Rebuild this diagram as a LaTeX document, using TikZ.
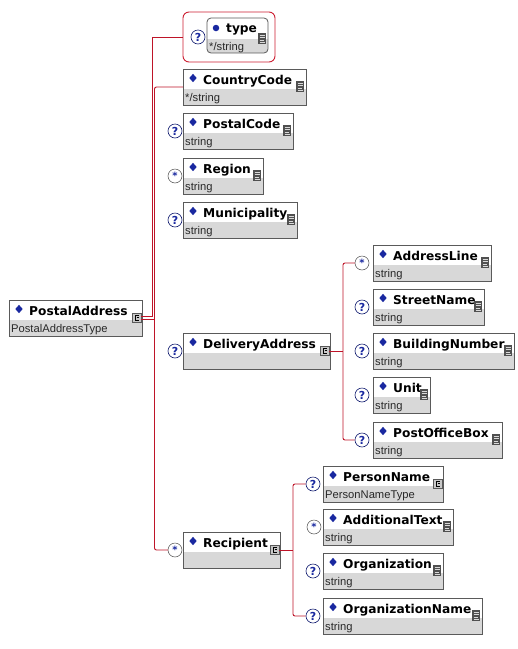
\documentclass[tikz,border=0pt]{standalone}
\usepackage{fontspec}
\setmainfont{DejaVu Sans}
\newfontfamily\subfont{Liberation Sans}
\usetikzlibrary{shapes.geometric}
\definecolor{connred}{RGB}{190,20,40}
\definecolor{grpred}{RGB}{205,30,50}
\definecolor{framegray}{RGB}{90,90,90}
\definecolor{bandgray}{RGB}{216,216,216}
\definecolor{navy}{RGB}{25,40,160}
\definecolor{subtxt}{RGB}{40,40,40}
\definecolor{icondark}{RGB}{80,80,80}
\definecolor{iconlight}{RGB}{200,200,200}
\tikzset{
  bandfill/.style={fill=bandgray},
  boxframe/.style={draw=framegray, line width=0.8pt, inner sep=0pt, outer sep=0pt},
  ttl/.style={anchor=base west, inner sep=0pt, font=\bfseries\fontsize{12.2}{14}\selectfont},
  sub/.style={anchor=base west, inner sep=0pt, text=subtxt, font=\subfont\fontsize{11.2}{13}\selectfont},
  diam/.style={diamond, fill=navy, inner sep=0pt, minimum width=7.5pt, minimum height=8.5pt},
  simpic/.style={fill=icondark, inner sep=0pt, minimum width=8pt, minimum height=11pt},
  cplxic/.style={fill=iconlight, draw=framegray, line width=0.6pt, inner sep=0pt, minimum width=9pt, minimum height=9pt},
  optc/.style={circle, draw=navy!70!black, fill=white, line width=0.6pt, minimum size=14pt, inner sep=0pt, text=navy, font=\bfseries\fontsize{11}{11}\selectfont},
  manyc/.style={circle, draw=black!70, fill=white, line width=0.5pt, minimum size=14pt, inner sep=0pt, text=navy, font=\bfseries\fontsize{10}{10}\selectfont},
  conn/.style={draw=connred, line width=0.9pt},
}
\newcommand{\xsdbox}[6]{%
  \fill[bandfill] ({#2},{#3+20}) rectangle ({#4},{#3+36});
  \node[boxframe, minimum width={(#4-#2)*1pt}, minimum height=36pt] (#1) at ({(#2+#4)/2},{#3+18}) {};
  \node[diam] (#1-d) at ({#2+10},{#3+9}) {};
  \node[ttl] (#1-t) at ({#2+20},{#3+15}) {#5};
  \node[sub] (#1-s) at ({#2+2},{#3+32}) {#6};
}
\newcommand{\simpleicon}[3]{% name, right, top
  \node[simpic] (#1) at ({#2-6},{#3+17.5}) {};
  \draw[white!85!black, line width=0.7pt] ({#2-8.5},{#3+14.5}) -- ({#2-3.5},{#3+14.5})
    ({#2-8.5},{#3+16.8}) -- ({#2-3.5},{#3+16.8})
    ({#2-8.5},{#3+19.1}) -- ({#2-4.5},{#3+19.1})
    ({#2-8.5},{#3+21.3}) -- ({#2-3.5},{#3+21.3});
}
\newcommand{\cplxicon}[3]{% name, right, top
  \node[cplxic] (#1) at ({#2-5.5},{#3+18}) {};
  \draw[black, line width=0.6pt] ({#2-3.5},{#3+15.5}) -- ({#2-7},{#3+15.5}) -- ({#2-7},{#3+20.5}) -- ({#2-3.5},{#3+20.5});
  \draw[black, line width=0.6pt] ({#2-5.5},{#3+17.5}) -- ({#2-3.5},{#3+17.5});
}
\begin{document}
\begin{tikzpicture}[x=1pt,y=-1pt]
\useasboundingbox (0,0) rectangle (518,649);
\fill[white] (0,0) rectangle (518,649);

% attribute group
\node[draw=grpred, rounded corners=6pt, line width=0.9pt, minimum width=92pt, minimum height=50pt, inner sep=0pt] (grp) at (229,37) {};
\begin{scope}
  \clip[rounded corners=4pt] (207,18) rectangle (268,53);
  \fill[bandfill] (207,39) rectangle (268,53);
\end{scope}
\node[draw=framegray, line width=0.8pt, rounded corners=4pt, minimum width=61pt, minimum height=35pt, inner sep=0pt] (tp) at (237.5,35.5) {};
\node[circle, fill=navy, inner sep=0pt, minimum size=6.5pt] (tp-d) at (216,28) {};
\node[ttl] (tp-t) at (226,32.5) {type};
\node[sub] (tp-s) at (209,50) {*/string};
\simpleicon{tp-ic}{268}{21}
\node[optc] (o-tp) at (198,37) {?};

% main element
\xsdbox{pa}{9}{300}{142}{PostalAddress}{PostalAddressType}
\cplxicon{pa-ic}{142}{300}

% children of PostalAddress
\xsdbox{cc}{183}{69}{306}{CountryCode}{*/string}
\simpleicon{cc-ic}{306}{69}
\xsdbox{pc}{183}{113}{293}{PostalCode}{string}
\simpleicon{pc-ic}{293}{113}
\node[optc] (o-pc) at (175,131) {?};
\xsdbox{rg}{183}{158}{263}{Region}{string}
\simpleicon{rg-ic}{263}{158}
\node[manyc] (o-rg) at (175,176) {*};
\xsdbox{mu}{183}{202}{297}{Municipality}{string}
\simpleicon{mu-ic}{297}{202}
\node[optc] (o-mu) at (175,220) {?};
\xsdbox{da}{183}{333}{330}{DeliveryAddress}{}
\cplxicon{da-ic}{330}{333}
\node[optc] (o-da) at (175,351) {?};
\xsdbox{rec}{183}{532}{280}{Recipient}{}
\cplxicon{rec-ic}{280}{532}
\node[manyc] (o-rec) at (175,550) {*};

% children of DeliveryAddress
\xsdbox{al}{373}{245}{491}{AddressLine}{string}
\simpleicon{al-ic}{491}{245}
\node[manyc] (o-al) at (362,263) {*};
\xsdbox{sn}{373}{289}{484}{StreetName}{string}
\simpleicon{sn-ic}{484}{289}
\node[optc] (o-sn) at (362,307) {?};
\xsdbox{bn}{373}{333}{514}{BuildingNumber}{string}
\simpleicon{bn-ic}{514}{333}
\node[optc] (o-bn) at (362,351) {?};
\xsdbox{un}{373}{377}{430}{Unit}{string}
\simpleicon{un-ic}{430}{377}
\node[optc] (o-un) at (362,395) {?};
\xsdbox{pob}{373}{422}{502}{PostOfficeBox}{string}
\simpleicon{pob-ic}{502}{422}
\node[optc] (o-pob) at (362,440) {?};

% children of Recipient
\xsdbox{pn}{323}{466}{443}{PersonName}{PersonNameType}
\cplxicon{pn-ic}{443}{466}
\node[optc] (o-pn) at (313,484) {?};
\xsdbox{at}{323}{509}{453}{AdditionalText}{string}
\simpleicon{at-ic}{453}{509}
\node[manyc] (o-at) at (314,527) {*};
\xsdbox{og}{323}{553}{443}{Organization}{string}
\simpleicon{og-ic}{443}{553}
\node[optc] (o-og) at (313,571) {?};
\xsdbox{on}{323}{598}{482}{OrganizationName}{string}
\simpleicon{on-ic}{482}{598}
\node[optc] (o-on) at (313,616) {?};

% connectors
\coordinate (sp1) at (152,0);
\coordinate (sp2) at (154.5,0);
\coordinate (sp3) at (343,0);
\coordinate (sp4) at (293,0);
\draw[conn] ([yshift=1.8pt]pa-ic.east) -- ([yshift=1.8pt]pa-ic.east -| sp1) -- (grp.west -| sp1) -- (grp.west);
\draw[conn] ([yshift=-1.8pt]pa-ic.east) -- ([yshift=-1.8pt]pa-ic.east -| sp2);
\draw[conn, rounded corners=2pt] (cc.west) -- (cc.west -| sp2) -- (o-rec.west -| sp2) -- (o-rec.west);
\draw[conn] (da-ic.east) -- (da-ic.east -| sp3);
\draw[conn, rounded corners=2pt] (o-al.west) -- (o-al.west -| sp3) -- (o-pob.west -| sp3) -- (o-pob.west);
\draw[conn] (rec-ic.east) -- (rec-ic.east -| sp4);
\draw[conn, rounded corners=2pt] (o-pn.west) -- (o-pn.west -| sp4) -- (o-on.west -| sp4) -- (o-on.west);
\end{tikzpicture}
\end{document}
